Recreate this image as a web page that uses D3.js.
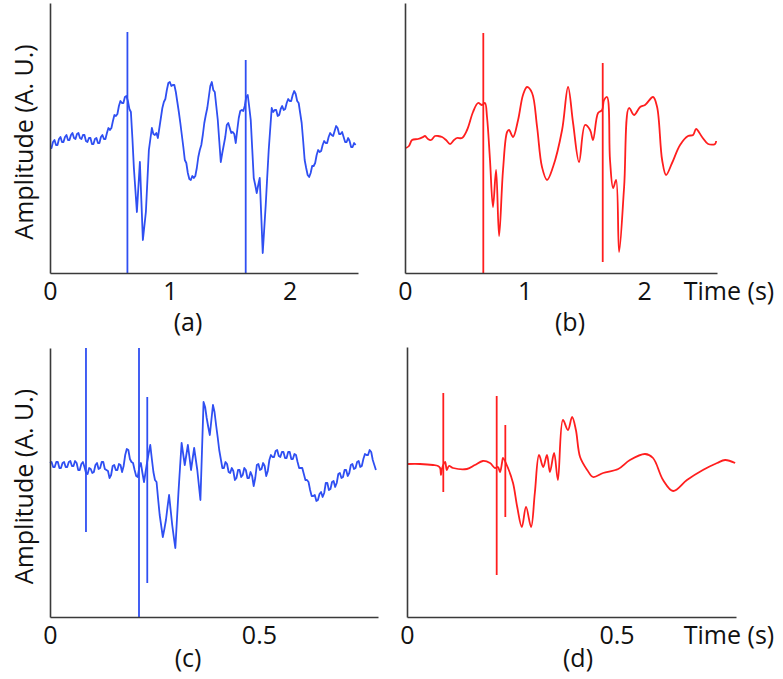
<!DOCTYPE html>
<html>
<head>
<meta charset="utf-8">
<script src="https://cdn.jsdelivr.net/npm/d3@7"></script>
<style>
  html, body { margin: 0; padding: 0; background: #ffffff; }
  svg { display: block; }
</style>
</head>
<body>
<svg id="chart" width="783" height="679"></svg>
<script>
// ---------------- DATA ----------------
// (a) raw signal, uniformly sampled every stepA seconds, amplitude in A.U.
const stepA = 0.0125;
const ampA = [125,125,131,133,128,128,134,136,131,131,136,138,133,133,138,140,135,134,139,140,
  135,134,138,138,132,131,135,135,129,129,134,135,130,130,136,138,134,134,140,145,
  143,145,152,158,157,159,167,172,170,170,176,177,172,164,161,135,105,83,61,86,
  111,72,33,47,61,92,123,134,145,139,138,140,135,145,155,165,171,174,183,190,
  191,187,188,188,181,171,161,150,138,126,113,110,100,94,93,97,95,97,105,116,
  123,128,138,150,158,165,176,187,191,183,181,167,153,132,111,120,128,136,148,150,
  145,140,141,139,130,143,155,162,163,162,167,176,178,166,153,124,95,88,80,88,
  95,58,20,44,68,96,123,144,165,161,163,163,157,158,164,167,163,164,170,174,
  172,172,178,182,179,172,170,160,150,132,113,105,98,96,100,107,107,110,118,123,
  121,122,128,132,130,130,136,140,138,137,142,147,145,139,139,141,136,131,131,135,
  132,126,126,130,128];
const spikesA = [[0.646, 241, 0], [1.633, 213, 0]];

// (b) filtered signal: [time (s), amplitude]
const traceB = [[0.008,125],[0.033,127],[0.059,133],[0.109,134],[0.151,136],[0.167,137],[0.192,134],
  [0.218,133],[0.251,137],[0.276,137],[0.310,136],[0.343,133],[0.377,129],[0.410,133],[0.435,135],
  [0.477,135],[0.519,143],[0.569,161],[0.611,170],[0.644,168],[0.669,170],[0.686,156],[0.711,113],
  [0.736,66],[0.762,103],[0.787,37],[0.820,103],[0.854,141],[0.870,143],[0.904,136],[0.946,153],
  [0.987,178],[1.021,186],[1.063,180],[1.105,146],[1.146,106],[1.188,93],[1.238,106],[1.314,143],
  [1.364,186],[1.406,150],[1.456,111],[1.506,148],[1.548,143],[1.573,133],[1.615,160],[1.649,163],
  [1.665,173],[1.690,176],[1.715,113],[1.741,85],[1.766,93],[1.791,21],[1.833,86],[1.874,165],
  [1.916,158],[1.967,166],[2.008,168],[2.075,176],[2.109,166],[2.151,113],[2.184,98],[2.234,110],
  [2.301,128],[2.368,137],[2.410,138],[2.435,144],[2.485,136],[2.536,129],[2.594,129],[2.603,132]];
const spikesB = [[0.655, 240, 0], [1.654, 210, 11]];

// (c) raw signal, uniformly sampled every stepC seconds
const stepC = 0.00375;
const ampC = [154,155,150,150,155,155,149,149,154,155,150,150,155,156,151,151,156,154,147,147,
  153,155,150,144,143,149,148,144,145,152,154,148,149,155,155,148,147,146,139,142,
  151,152,147,147,153,152,145,151,162,168,167,158,155,154,147,141,140,150,154,144,
  135,145,155,164,172,158,145,137,135,118,102,91,80,88,97,110,122,107,92,80,
  69,97,125,150,174,163,152,162,172,160,147,158,169,158,147,132,117,166,215,210,
  199,190,182,197,212,205,192,180,167,158,149,149,155,153,145,144,149,146,137,139,
  147,147,140,142,149,147,139,139,145,141,131,139,152,153,147,148,154,151,141,146,
  157,162,160,160,166,167,161,160,165,165,159,159,165,165,158,158,163,162,155,149,
  149,149,143,137,137,135,127,121,121,122,116,117,123,125,120,124,134,134,127,128,
  135,136,130,134,143,144,139,140,147,147,141,144,152,153,148,149,155,156,150,151,
  158,163,162,162,167,165,157,152,147];
const spikesC = [[0.0861, 269, 85], [0.213, 269, 0], [0.2328, 220, 34]];

// (d) filtered signal: [time (s), amplitude]
const traceD = [[0.002,153],[0.031,153],[0.062,152],[0.074,151],[0.079,149],[0.081,142],[0.084,149],
  [0.091,155],[0.095,147],[0.100,151],[0.110,149],[0.143,148],[0.162,152],[0.181,156],[0.198,154],
  [0.210,149],[0.217,150],[0.222,145],[0.227,155],[0.229,159],[0.241,149],[0.253,134],[0.263,110],
  [0.274,90],[0.284,110],[0.296,90],[0.305,124],[0.315,162],[0.325,150],[0.334,162],[0.341,145],
  [0.351,164],[0.360,137],[0.372,197],[0.384,187],[0.394,200],[0.403,187],[0.413,160],[0.430,147],
  [0.444,140],[0.468,144],[0.504,148],[0.532,157],[0.568,163],[0.587,159],[0.611,137],[0.635,126],
  [0.668,137],[0.706,147],[0.740,154],[0.759,157],[0.783,154]];
const spikesD = [[0.0866, 224, 125], [0.214, 221, 42], [0.2346, 192, 100]];

const ticksAB = [0, 1, 2];
const tickLabelsAB = ["0", "1", "2"];
const ticksCD = [0, 0.5];
const tickLabelsCD = ["0", "0.5"];
const panelLabels = ["(a)", "(b)", "(c)", "(d)"];
const yLabel = "Amplitude (A. U.)";
const xLabel = "Time (s)";

// ---------------- DRAW ----------------
const svg = d3.select("#chart");
const FONT = "'Open Sans', sans-serif";
const BLUE = "#2f4ff2";
const RED = "#ff1e1e";
const AXIS = "#3a3a3a";

const uniform = (step, arr) => arr.map((v, i) => [i * step, v]);

const panels = [
  {left: 50, top: 3, w: 308, h: 270, xDom: [0, 2.57], yDom: [0, 270], data: uniform(stepA, ampA), spikes: spikesA,
   color: BLUE, curve: d3.curveLinear, sw: 1.8, ticks: ticksAB, tl: tickLabelsAB, label: panelLabels[0], lx: 188, ly: 331, ylab: true, xlab: false},
  {left: 405, top: 3, w: 312, h: 270, xDom: [0, 2.61], yDom: [0, 270], data: traceB, spikes: spikesB,
   color: RED, curve: d3.curveCatmullRom.alpha(0.5), sw: 1.8, ticks: ticksAB, tl: tickLabelsAB, label: panelLabels[1], lx: 570, ly: 331, ylab: false, xlab: true},
  {left: 50, top: 348, w: 328, h: 269, xDom: [0, 0.785], yDom: [0, 269], data: uniform(stepC, ampC), spikes: spikesC,
   color: BLUE, curve: d3.curveLinear, sw: 1.8, ticks: ticksCD, tl: tickLabelsCD, label: panelLabels[2], lx: 188, ly: 667, ylab: true, xlab: false},
  {left: 407, top: 347, w: 329, h: 270, xDom: [0, 0.785], yDom: [0, 270], data: traceD, spikes: spikesD,
   color: RED, curve: d3.curveCatmullRom.alpha(0.5), sw: 1.8, ticks: ticksCD, tl: tickLabelsCD, label: panelLabels[3], lx: 578, ly: 667, ylab: false, xlab: true}
];

panels.forEach(p => {
  const g = svg.append("g").attr("transform", `translate(${p.left},${p.top})`);
  const x = d3.scaleLinear().domain(p.xDom).range([0, p.w]);
  const y = d3.scaleLinear().domain(p.yDom).range([p.h, 0]);

  const line = d3.line().x(d => x(d[0])).y(d => y(d[1])).curve(p.curve);
  g.append("path").datum(p.data).attr("d", line)
    .attr("fill", "none").attr("stroke", p.color).attr("stroke-width", p.sw)
    .attr("stroke-linejoin", "round");

  const sline = d3.line().x(d => x(d[0])).y(d => y(d[1]));
  p.spikes.forEach(s => {
    g.append("path").datum([[s[0], s[1]], [s[0], s[2]]]).attr("d", sline)
      .attr("fill", "none").attr("stroke", p.color).attr("stroke-width", p.sw);
  });

  const xAxis = d3.axisBottom(x).tickValues(p.ticks).tickSize(0).tickPadding(9)
    .tickFormat((d, i) => p.tl[i]);
  const xg = g.append("g").attr("transform", `translate(0,${p.h})`).call(xAxis);
  xg.select(".domain").attr("stroke", AXIS).attr("stroke-width", 1.6);
  xg.selectAll("text").attr("font-family", FONT).attr("font-size", 25).attr("fill", "#111");

  const yAxis = d3.axisLeft(y).tickValues([]).tickSizeOuter(0);
  const yg = g.append("g").call(yAxis);
  yg.select(".domain").attr("stroke", AXIS).attr("stroke-width", 1.6);

  svg.append("text").attr("x", p.lx).attr("y", p.ly).attr("text-anchor", "middle")
    .attr("font-family", FONT).attr("font-size", 25).attr("fill", "#111").text(p.label);

  if (p.ylab) {
    svg.append("text")
      .attr("transform", `translate(33,${p.top + p.h / 2 + 4}) rotate(-90)`)
      .attr("text-anchor", "middle").attr("font-family", FONT).attr("font-size", 25)
      .attr("fill", "#111").text(yLabel);
  }
  if (p.xlab) {
    svg.append("text").attr("x", 729).attr("y", p.top + p.h + 27)
      .attr("text-anchor", "middle").attr("font-family", FONT).attr("font-size", 25)
      .attr("fill", "#111").text(xLabel);
  }
});
</script>
</body>
</html>
